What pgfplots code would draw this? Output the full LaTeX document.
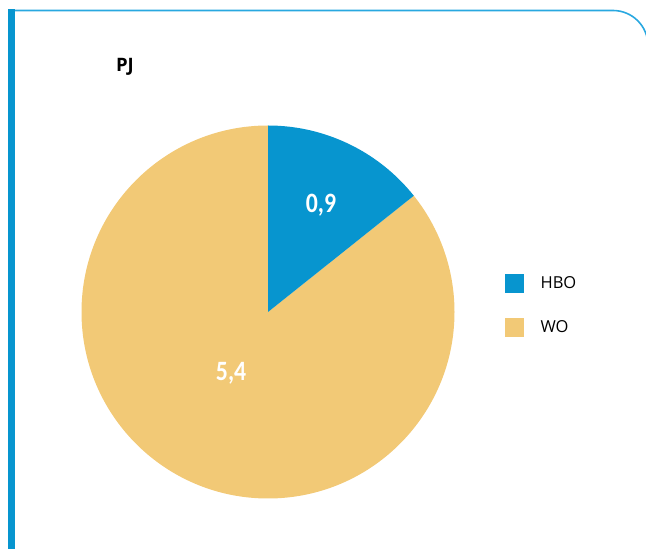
\documentclass[border=0pt]{standalone}
\usepackage{pgfplots}
\pgfplotsset{compat=1.18}
\usepackage{fontspec}
\setmainfont{Open Sans}
\newfontfamily\lblfont[FakeStretch=0.85]{Carlito}
\definecolor{hbo}{RGB}{7,149,207}
\definecolor{wo}{RGB}{242,201,118}
\definecolor{framecol}{RGB}{41,168,224}

\begin{document}
\begin{tikzpicture}
\useasboundingbox (0pt,0pt) rectangle (646pt,549pt);
\begin{scope}
  \clip (0pt,0pt) rectangle (646pt,549pt);
  \fill[hbo] (8pt,0pt) rectangle (15pt,539.5pt);
  \draw[framecol, line width=1.6pt] (15pt,538.5pt) -- (613pt,538.5pt) arc[start angle=90, end angle=0, radius=35pt];
\end{scope}
\node[font=\bfseries\fontsize{18.5}{20}\selectfont] at (125pt,482pt) {PJ};

% values
\def\vhbo{0.9}
\def\vwo{5.4}
\pgfmathsetmacro{\ahbo}{360*\vhbo/(\vhbo+\vwo)}
\pgfmathsetmacro{\awo}{360-\ahbo}

\begin{axis}[
  at={(268pt,237pt)}, anchor=center,
  x=186.5pt, y=186.5pt,
  xmin=-1, xmax=1, ymin=-1, ymax=1,
  hide axis,
  clip=false,
  legend image code/.code={\fill[#1] (0pt,-9pt) rectangle (18pt,9pt);},
  legend style={
    at={(1.1354,0.6019)}, anchor=north west,
    draw=none, fill=none, inner sep=0pt,
    row sep=25pt,
    font=\fontsize{16.5}{20}\selectfont,
    nodes={inner sep=0pt},
    /tikz/every odd column/.append style={column sep=17pt},
  },
  legend cell align=left,
]
\addlegendimage{hbo}
\addlegendentry{HBO}
\addlegendimage{wo}
\addlegendentry{WO}
\fill[wo] (axis cs:0,0) -- (axis cs:0,1) arc[start angle=90, delta angle=\awo, radius=186.5pt] -- cycle;
\fill[hbo] (axis cs:0,0) -- (axis cs:0,1) arc[start angle=90, delta angle=-\ahbo, radius=186.5pt] -- cycle;
\node[text=white, font=\lblfont\bfseries\fontsize{28}{30}\selectfont] at (axis cs:0.284,0.574) {0,9};
\node[text=white, font=\lblfont\bfseries\fontsize{28}{30}\selectfont] at (axis cs:-0.198,-0.330) {5,4};
\end{axis}
\end{tikzpicture}
\end{document}
